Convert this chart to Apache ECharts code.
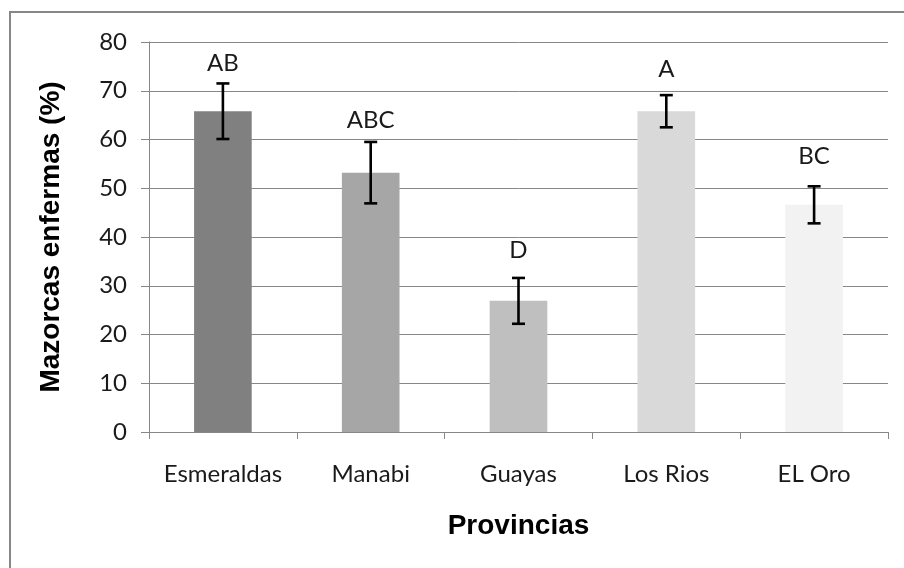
<!DOCTYPE html>
<html>
<head>
<meta charset="utf-8">
<script src="https://cdn.jsdelivr.net/npm/echarts@6/dist/echarts.min.js"></script>
<style>
  html, body { margin: 0; padding: 0; background: #ffffff; }
  #chart { width: 904px; height: 568px; }
</style>
</head>
<body>
<div id="chart"></div>
<script>
// ---- data ----
const categories = ['Esmeraldas', 'Manabi', 'Guayas', 'Los Rios', 'EL Oro'];
const means      = [65.8, 53.2, 26.9, 65.8, 46.6];
const errors     = [5.7, 6.3, 4.7, 3.3, 3.8];
const letters    = ['AB', 'ABC', 'D', 'A', 'BC'];
const letterPos  = [75.7, 64.0, 37.2, 74.5, 56.5];
const barColors  = ['#808080', '#a6a6a6', '#bfbfbf', '#d9d9d9', '#f2f2f2'];
const yTicks     = { min: 0, max: 80, interval: 10 };

const tickFont = 'Lato';
const chart = echarts.init(document.getElementById('chart'));

const errData = categories.map((c, i) => [i, means[i] - errors[i], means[i] + errors[i]]);
const letterData = categories.map((c, i) => [i, letterPos[i], letters[i]]);

chart.setOption({
  animation: false,
  backgroundColor: '#ffffff',
  graphic: [{
    type: 'rect',
    shape: { x: 10, y: 12, width: 1200, height: 1200 },
    style: { fill: 'none', stroke: '#878787', lineWidth: 2 },
    silent: true,
    z: -1
  }],
  grid: { left: 149, right: 16, top: 42, bottom: 136, containLabel: false },
  xAxis: {
    type: 'category',
    data: categories,
    name: 'Provincias',
    nameLocation: 'middle',
    nameGap: 80,
    nameTextStyle: { fontFamily: 'Liberation Sans', fontWeight: 'bold', fontSize: 28, color: '#000' },
    axisLine: { lineStyle: { color: '#878787', width: 1 } },
    axisTick: { show: true, interval: 0, length: 7, alignWithLabel: false, lineStyle: { color: '#878787' } },
    axisLabel: { interval: 0, fontFamily: tickFont, fontSize: 24, color: '#1a1a1a', margin: 30 },
    splitLine: { show: false }
  },
  yAxis: {
    type: 'value',
    min: yTicks.min, max: yTicks.max, interval: yTicks.interval,
    name: 'Mazorcas enfermas (%)',
    nameLocation: 'middle',
    nameGap: 84,
    nameTextStyle: { fontFamily: 'Liberation Sans', fontWeight: 'bold', fontSize: 28, color: '#000' },
    axisLine: { show: true, lineStyle: { color: '#878787', width: 1 } },
    axisTick: { show: true, length: 8, lineStyle: { color: '#878787' } },
    axisLabel: { fontFamily: tickFont, fontSize: 24, color: '#1a1a1a', margin: 22 },
    splitLine: { show: true, lineStyle: { color: '#878787', width: 1 } }
  },
  series: [
    {
      type: 'bar',
      data: means.map((v, i) => ({ value: v, itemStyle: { color: barColors[i] } })),
      barWidth: '39%',
      z: 2
    },
    {
      type: 'custom',
      data: errData,
      z: 5,
      renderItem: function (params, api) {
        const x = api.value(0);
        const lo = api.coord([x, api.value(1)]);
        const hi = api.coord([x, api.value(2)]);
        const half = 6.5;
        const st = { stroke: '#000', lineWidth: 2.6 };
        return {
          type: 'group',
          children: [
            { type: 'line', shape: { x1: lo[0], y1: lo[1], x2: hi[0], y2: hi[1] }, style: st },
            { type: 'line', shape: { x1: hi[0] - half, y1: hi[1], x2: hi[0] + half, y2: hi[1] }, style: st },
            { type: 'line', shape: { x1: lo[0] - half, y1: lo[1], x2: lo[0] + half, y2: lo[1] }, style: st }
          ]
        };
      }
    },
    {
      type: 'custom',
      data: letterData,
      z: 6,
      renderItem: function (params, api) {
        const p = api.coord([api.value(0), api.value(1)]);
        return {
          type: 'text',
          x: p[0], y: p[1],
          style: {
            text: letters[params.dataIndex],
            align: 'center', verticalAlign: 'middle',
            fontFamily: tickFont, fontSize: 24, fill: '#1a1a1a'
          }
        };
      }
    }
  ]
});
</script>
</body>
</html>
